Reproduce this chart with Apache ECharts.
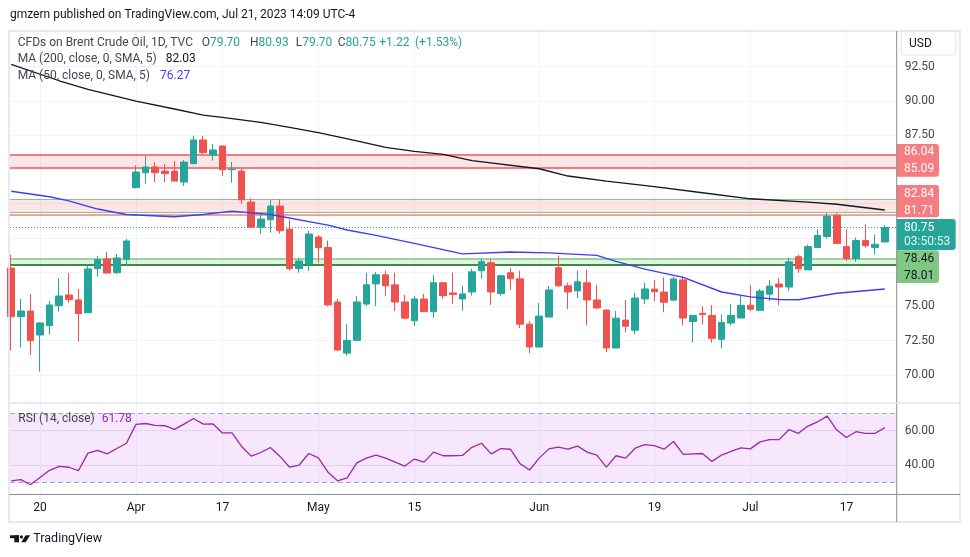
<!DOCTYPE html>
<html>
<head>
<meta charset="utf-8">
<script src="https://cdn.jsdelivr.net/npm/echarts@6/dist/echarts.min.js"></script>
<style>
html,body{margin:0;padding:0;background:#ffffff;}
#c{width:970px;height:557px;}
</style>
</head>
<body>
<div id="c"></div>
<script>
// ---------------- DATA ----------------
const dates = [
 '2023-03-15','2023-03-16','2023-03-17','2023-03-20','2023-03-21','2023-03-22','2023-03-23','2023-03-24','2023-03-27','2023-03-28','2023-03-29','2023-03-30','2023-03-31',
 '2023-04-03','2023-04-04','2023-04-05','2023-04-06','2023-04-10','2023-04-11','2023-04-12','2023-04-13','2023-04-14','2023-04-17','2023-04-18','2023-04-19','2023-04-20','2023-04-21','2023-04-24','2023-04-25','2023-04-26','2023-04-27','2023-04-28',
 '2023-05-01','2023-05-02','2023-05-03','2023-05-04','2023-05-05','2023-05-08','2023-05-09','2023-05-10','2023-05-11','2023-05-12','2023-05-15','2023-05-16','2023-05-17','2023-05-18','2023-05-19','2023-05-22','2023-05-23','2023-05-24','2023-05-25','2023-05-26','2023-05-29','2023-05-30','2023-05-31',
 '2023-06-01','2023-06-02','2023-06-05','2023-06-06','2023-06-07','2023-06-08','2023-06-09','2023-06-12','2023-06-13','2023-06-14','2023-06-15','2023-06-16','2023-06-19','2023-06-20','2023-06-21','2023-06-22','2023-06-23','2023-06-26','2023-06-27','2023-06-28','2023-06-29','2023-06-30',
 '2023-07-03','2023-07-04','2023-07-05','2023-07-06','2023-07-07','2023-07-10','2023-07-11','2023-07-12','2023-07-13','2023-07-14','2023-07-17','2023-07-18','2023-07-19','2023-07-20','2023-07-21'
];
const opens = [
 77.80,74.25,74.66,72.91,73.59,75.05,75.83,75.47,74.54,77.75,78.46,77.46,78.43,
 83.66,84.75,85.17,84.87,84.87,84.07,85.41,87.14,86.04,86.70,84.97,84.87,82.61,80.77,81.32,82.32,80.64,77.75,78.09,
 80.06,79.29,75.32,71.59,72.52,75.17,76.64,77.30,76.57,75.32,73.95,75.54,74.61,76.72,75.98,75.54,76.05,77.60,78.19,75.93,77.45,77.01,73.70,
 72.03,74.22,77.82,76.50,76.13,76.72,75.47,74.73,71.96,74.00,73.26,75.54,76.26,76.04,75.45,76.93,73.90,74.49,74.34,72.60,73.78,74.15,
 75.08,74.71,75.89,76.63,76.41,78.62,77.66,79.29,80.10,81.65,79.36,78.48,79.80,79.29,79.70
];
const highs = [
 78.75,75.54,75.90,73.86,75.39,77.07,77.43,76.27,78.07,78.67,78.99,78.82,79.91,
 85.29,85.97,85.53,85.38,85.60,85.68,87.45,87.45,86.84,86.70,85.53,85.04,82.90,81.71,82.76,82.83,81.30,78.53,80.50,
 80.21,79.80,75.54,73.70,75.76,77.45,77.52,77.60,77.45,75.83,75.76,75.91,77.30,76.72,77.45,76.50,77.75,78.48,78.41,77.30,77.82,77.60,73.92,
 75.25,76.50,78.70,76.72,77.60,77.67,76.57,74.80,74.66,75.47,75.98,76.72,76.93,77.12,77.15,77.22,74.34,75.01,75.08,74.42,75.16,75.82,
 76.56,76.26,76.93,77.07,78.55,78.77,79.51,80.61,81.79,81.79,80.61,80.02,80.98,80.25,80.93
];
const lows = [
 71.77,71.99,71.45,70.24,72.94,74.61,75.27,72.43,74.54,77.17,77.41,77.36,77.97,
 83.59,83.95,84.07,84.05,84.14,83.80,85.41,86.11,85.63,84.53,84.02,82.49,80.77,80.30,80.38,80.30,77.60,77.46,77.60,
 78.16,75.00,71.75,71.42,72.45,75.02,75.02,75.76,74.66,74.07,73.58,74.61,74.17,75.56,75.19,74.68,75.78,77.01,75.10,75.78,76.20,73.41,71.59,
 72.03,74.22,76.42,74.80,75.61,73.63,74.80,71.67,71.96,73.11,72.97,75.17,75.38,74.57,75.45,73.61,72.35,73.68,72.35,71.93,73.61,74.15,
 74.64,74.71,75.38,75.08,76.12,77.44,77.66,79.29,79.95,79.58,78.33,78.25,79.29,78.77,79.70
];
const closes = [
 74.25,74.66,72.50,73.79,75.10,75.76,75.49,74.47,77.73,78.41,77.43,78.53,79.77,
 84.80,85.17,84.75,84.68,84.14,85.53,87.14,86.21,86.41,84.97,85.01,82.78,80.77,81.37,82.32,80.52,77.75,78.31,80.28,
 79.28,75.10,71.81,72.52,75.32,76.57,77.30,76.50,75.32,74.14,75.54,74.61,76.72,75.78,75.86,75.91,77.52,78.26,76.05,77.23,77.01,73.70,72.03,
 74.29,76.20,76.50,76.05,76.79,75.47,74.88,71.96,74.14,73.55,75.61,76.27,76.07,75.30,77.00,74.15,74.34,74.40,72.67,73.83,74.34,75.08,
 74.79,76.12,76.48,76.41,78.25,77.74,79.36,80.17,81.57,79.58,78.48,79.80,79.43,79.53,80.75
];
// moving averages: [bar index, value]
const ma200Points = [[0,92.66],[5,91.46],[8,90.83],[13,89.98],[17,89.40],[20,88.96],[22,88.79],[26,88.43],[29,88.06],[32,87.67],[36,87.08],[39,86.60],[42,86.31],[45,86.09],[48,85.63],[55,85.04],[58,84.51],[62,84.14],[67,83.73],[72,83.29],[77,82.85],[83,82.61],[86,82.45],[91,82.03]];
const ma50Points = [[0,83.40],[4,83.00],[6,82.70],[9,82.10],[12,81.70],[17,81.54],[20,81.70],[23,81.95],[27,81.70],[33,80.93],[35,80.57],[38,80.18],[42,79.60],[47,78.83],[52,78.97],[56,78.90],[61,78.72],[63,78.28],[66,77.72],[70,77.12],[74,76.05],[77,75.69],[80,75.50],[82,75.48],[84,75.72],[86,75.96],[91,76.27]];
const rsiValues = [
 30.8,31.5,28.5,32.7,36.9,39.2,38.7,36.7,46.9,48.5,
 46.5,49.6,52.7,63.7,64.2,63.1,62.9,60.8,63.8,67.1,
 63.8,64.0,58.7,58.7,50.8,45.2,47.3,50.2,45.0,38.7,
 40.0,46.7,44.2,35.8,30.8,32.5,41.2,44.0,45.8,44.0,
 41.7,39.4,43.5,41.7,47.5,45.4,45.4,45.6,50.3,52.7,
 46.5,49.6,49.2,40.8,37.1,44.0,49.4,50.4,49.2,51.0,
 47.5,45.8,38.8,45.4,44.0,49.8,51.9,51.3,49.2,53.7,
 46.2,46.5,46.7,42.1,45.8,47.9,50.0,49.4,53.5,54.8,
 54.8,60.6,58.5,62.7,65.2,68.5,60.4,56.0,59.4,58.5,
 58.5,61.78
];
const timeTickDates = ['2023-03-20','2023-04-03','2023-04-17','2023-05-01','2023-05-15','2023-06-01','2023-06-19','2023-07-03','2023-07-17'];
const timeTickLabels = ['20','Apr','17','May','15','Jun','19','Jul','17'];
const priceTicks = [70,72.5,75,77.5,80,82.5,85,87.5,90,92.5];
const rsiTicks = [40,60];
const rsiBand = [30,70];
const resistanceUpper = [85.09, 86.04];
const resistanceLower = [81.71, 82.84];
const resistanceLowerInner = 81.85;
const supportZone = [78.01, 78.46];
const lastClose = 80.75;
const countdown = '03:50:53';
const ma200Last = '82.03', ma50Last = '76.27', rsiLast = '61.78';
const ohlcLegend = {O:'79.70', H:'80.93', L:'79.70', C:'80.75', chg:'+1.22', pct:'(+1.53%)'};

// ---------------- CHART ----------------
const FONT = 'Roboto, "Liberation Sans", sans-serif';
const TXT = '#131722', GRAY = '#434651', GRID = '#f0f3fa';
const UP = '#26a69a', DOWN = '#ef5350';
const PANE_L = 10, PANE_R = 896.7;
const X_MIN = -0.125, X_MAX = 92.24;
const tickIdx = timeTickDates.map(d => dates.indexOf(d));

const chart = echarts.init(document.getElementById('c'), null, {renderer:'canvas'});
const candleData = dates.map((d,i) => [i, opens[i], closes[i], lows[i], highs[i]]);
function hl(v, color, width, type){ return {yAxis:v, lineStyle:{color:color, width:width, type:type||'solid'}}; }

const xCommon = {type:'value', min:X_MIN, max:X_MAX,
  axisTick:{show:false, customValues:tickIdx},
  splitLine:{show:true, lineStyle:{color:GRID, width:1}}};

const option = {
  animation:false,
  textStyle:{fontFamily:FONT},
  grid:[
    {left:PANE_L, right:970-PANE_R, top:31, height:372},
    {left:PANE_L, right:970-PANE_R, top:403, height:91}
  ],
  xAxis:[
    Object.assign({}, xCommon, {gridIndex:0, axisLine:{show:false}, axisLabel:{show:false, customValues:tickIdx}}),
    Object.assign({}, xCommon, {gridIndex:1, axisLine:{show:false},
      axisLabel:{show:true, customValues:tickIdx, margin:8, fontSize:12, color:TXT, fontFamily:FONT,
        formatter:v => timeTickLabels[tickIdx.indexOf(Math.round(v))] || ''}})
  ],
  yAxis:[
    {type:'value', gridIndex:0, position:'right', min:67.95, max:95.09,
      axisLine:{show:false}, axisTick:{show:false, customValues:priceTicks},
      axisLabel:{customValues:priceTicks, margin:8, fontSize:12, color:GRAY, fontFamily:FONT, formatter:v=>v.toFixed(2)},
      splitLine:{show:true, lineStyle:{color:GRID, width:1}}},
    {type:'value', gridIndex:1, position:'right', min:23.1, max:76.15,
      axisLine:{show:false}, axisTick:{show:false, customValues:rsiTicks},
      axisLabel:{customValues:rsiTicks, margin:8, fontSize:12, color:GRAY, fontFamily:FONT, formatter:v=>v.toFixed(2)},
      splitLine:{show:true, lineStyle:{color:'#ebe3f3', width:1}}}
  ],
  series:[
    {name:'zones', type:'line', xAxisIndex:0, yAxisIndex:0, data:[], silent:true, z:1,
      markArea:{silent:true, z:1, data:[
        [{yAxis:resistanceUpper[0], itemStyle:{color:'rgba(247,124,128,0.2)'}},{yAxis:resistanceUpper[1]}],
        [{yAxis:resistanceLowerInner, itemStyle:{color:'rgba(247,124,128,0.2)'}},{yAxis:resistanceLower[1]}],
        [{yAxis:supportZone[0], itemStyle:{color:'rgba(76,175,80,0.16)'}},{yAxis:supportZone[1]}]
      ]},
      markLine:{silent:true, z:1, symbol:['none','none'], label:{show:false}, animation:false, data:[
        hl(resistanceUpper[1],'#f77c80',2), hl(resistanceUpper[0],'#f77c80',2),
        hl(resistanceLower[1],'#81c784',1.2), hl(resistanceLowerInner,'#81c784',1.2), hl(resistanceLower[0],'#f77c80',1.5),
        hl(supportZone[1],'#81c784',1.5), hl(supportZone[0],'#388e3c',2),
        hl(lastClose,UP,1,[1,2])
      ]}
    },
    {name:'Brent', type:'candlestick', xAxisIndex:0, yAxisIndex:0, z:2, barWidth:7, clip:true,
      data:candleData,
      itemStyle:{color:UP, color0:DOWN, borderColor:UP, borderColor0:DOWN, borderWidth:1}},
    {name:'MA200', type:'line', xAxisIndex:0, yAxisIndex:0, z:3, data:ma200Points, showSymbol:false, symbol:'none',
      lineStyle:{color:'#131722', width:1.3}},
    {name:'MA50', type:'line', xAxisIndex:0, yAxisIndex:0, z:3, data:ma50Points, showSymbol:false, symbol:'none',
      lineStyle:{color:'#3d3dfa', width:1.4}},
    {name:'rsiBand', type:'line', xAxisIndex:1, yAxisIndex:1, data:[], silent:true, z:1,
      markArea:{silent:true, z:1, data:[[{yAxis:rsiBand[0], itemStyle:{color:'rgba(180,60,240,0.12)'}},{yAxis:rsiBand[1]}]]},
      markLine:{silent:true, z:1, symbol:['none','none'], label:{show:false}, data:[
        hl(rsiBand[1],'#a3a6af',1,[5,3]), hl(rsiBand[0],'#a3a6af',1,[5,3])
      ]}
    },
    {name:'RSI', type:'line', xAxisIndex:1, yAxisIndex:1, z:3, data:rsiValues.map((v,i)=>[i,v]), showSymbol:false, symbol:'none',
      lineStyle:{color:'#9c27b0', width:1.3}}
  ]
};
chart.setOption(option);

// ---------------- ANNOTATIONS ----------------
const py = v => chart.convertToPixel({yAxisIndex:0}, v);
function txt(x, y, s, color, size, weight, align){
  return {type:'text', x:x, y:y, z:100, silent:true,
    style:{text:s, fill:color, font:(weight||'normal')+' '+(size||12)+'px '+FONT, textVerticalAlign:'middle', textAlign:align||'left'}};
}
function pair(x, y, letter, value){
  return {type:'text', x:x, y:y, z:100, silent:true,
    style:{text:letter+'{v|'+value+'}', fill:GRAY, font:'12px '+FONT, textVerticalAlign:'middle', textAlign:'left',
      rich:{v:{fill:UP, font:'12px '+FONT}}}};
}
function box(x, y1, y2, w, color){
  return {type:'rect', z:90, silent:true, shape:{x:x, y:y1, width:w, height:y2-y1, r:[0,3,3,0]}, style:{fill:color}};
}
const g = [];
// frame and separators
g.push({type:'rect', z:95, silent:true, shape:{x:9, y:31, width:951, height:491}, style:{fill:null, stroke:'#e0e3eb', lineWidth:1.5}});
g.push({type:'line', z:95, silent:true, shape:{x1:PANE_R, y1:31, x2:PANE_R, y2:522}, style:{stroke:'#8a8d96', lineWidth:1}});
g.push({type:'line', z:95, silent:true, shape:{x1:9, y1:403, x2:960, y2:403}, style:{stroke:'#e0e3eb', lineWidth:1.5}});
g.push({type:'line', z:95, silent:true, shape:{x1:9, y1:494.5, x2:960, y2:494.5}, style:{stroke:'#8a8d96', lineWidth:1}});
// header
g.push(txt(10, 15, 'gmzern published on TradingView.com, Jul 21, 2023 14:09 UTC-4', TXT, 12));
// legends
g.push(txt(17.7, 42.5, 'CFDs on Brent Crude Oil, 1D, TVC', GRAY, 12));
g.push(pair(201.7, 42.5, 'O', ohlcLegend.O));
g.push(pair(250, 42.5, 'H', ohlcLegend.H));
g.push(pair(295.7, 42.5, 'L', ohlcLegend.L));
g.push(pair(337.7, 42.5, 'C', ohlcLegend.C));
g.push(txt(379.3, 42.5, ohlcLegend.chg, UP, 12)); g.push(txt(415, 42.5, ohlcLegend.pct, UP, 12));
g.push(txt(17.7, 59.3, 'MA (200, close, 0, SMA, 5)', GRAY, 12)); g.push(txt(165.7, 59.3, ma200Last, TXT, 12));
g.push(txt(17.7, 75.7, 'MA (50, close, 0, SMA, 5)', GRAY, 12)); g.push(txt(160, 75.7, ma50Last, '#3d3dfa', 12));
g.push(txt(18.3, 419, 'RSI (14, close)', GRAY, 12)); g.push(txt(101.7, 419, rsiLast, '#9c27b0', 12));
// USD button
g.push({type:'rect', z:90, silent:true, shape:{x:901, y:31, width:55, height:24, r:4}, style:{fill:'#fff', stroke:'#e0e3eb', lineWidth:1}});
g.push(txt(909, 43.5, 'USD', TXT, 12));
// price labels
const BX = PANE_R, BW = 42.3;
g.push(box(BX, py(resistanceUpper[1])-11, py(resistanceUpper[0])+8.7, BW, '#f77c80'));
g.push(txt(904, py(resistanceUpper[1])-3, resistanceUpper[1].toFixed(2), '#fff', 12));
g.push(txt(904, py(resistanceUpper[0])+1, resistanceUpper[0].toFixed(2), '#fff', 12));
g.push(box(BX, py(resistanceLower[1])-14, py(resistanceLower[0])+2.8, BW, '#f77c80'));
g.push(txt(904, py(resistanceLower[1])-5, resistanceLower[1].toFixed(2), '#fff', 12));
g.push(txt(904, py(resistanceLower[0])-3, resistanceLower[0].toFixed(2), '#fff', 12));
g.push(box(BX, py(lastClose)-8.5, py(lastClose)+22.5, 59, UP));
g.push(txt(904, py(lastClose), lastClose.toFixed(2), '#fff', 12));
g.push(txt(904, py(lastClose)+14, countdown, 'rgba(255,255,255,0.88)', 12));
g.push(box(BX, py(supportZone[1])-8.7, py(supportZone[0])+18, BW, '#81c784'));
g.push(txt(904, py(supportZone[1])+0.5, supportZone[1].toFixed(2), TXT, 12));
g.push(txt(904, py(supportZone[0])+11.3, supportZone[0].toFixed(2), TXT, 12));
// footer logo
g.push({type:'rect', z:90, silent:true, shape:{x:10, y:535.3, width:9, height:2.9}, style:{fill:TXT}});
g.push({type:'rect', z:90, silent:true, shape:{x:14.3, y:535.3, width:4.7, height:7}, style:{fill:TXT}});
g.push({type:'circle', z:90, silent:true, shape:{cx:21.4, cy:536.9, r:1.6}, style:{fill:TXT}});
g.push({type:'polygon', z:90, silent:true, shape:{points:[[25.6,535.3],[30.2,535.3],[25.6,542.3],[21.2,542.3]]}, style:{fill:TXT}});
g.push(txt(33.3, 539, 'TradingView', TXT, 12.5));
chart.setOption({graphic:g});
</script>
</body>
</html>
